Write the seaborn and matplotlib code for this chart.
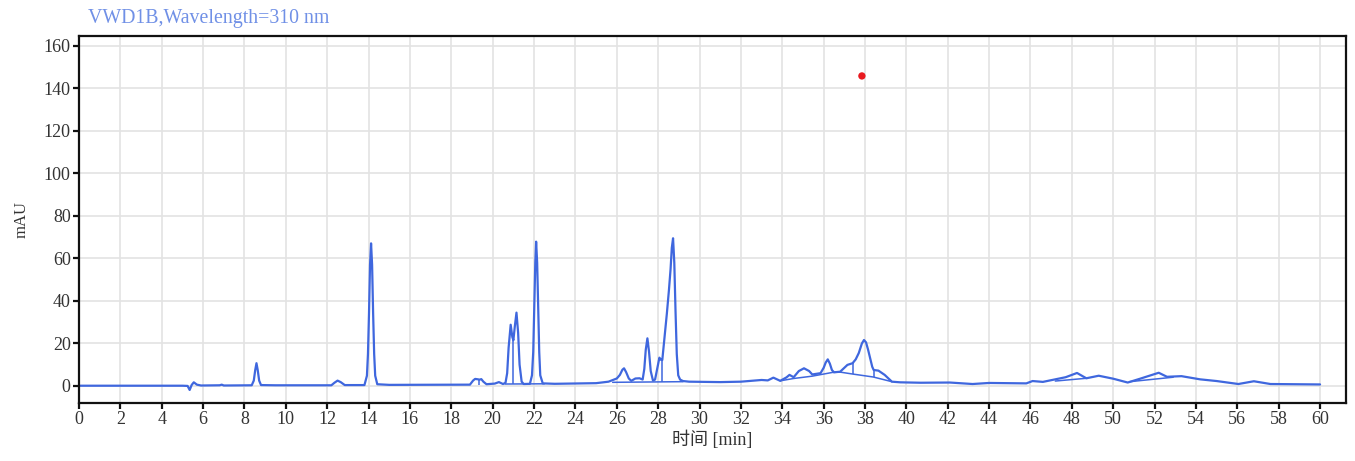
import numpy as np
import pandas as pd
import matplotlib
matplotlib.use("Agg")
import matplotlib.pyplot as plt
import seaborn as sns

# ---- data ----
time_min = [0.0, 5.0, 5.25, 5.35, 5.45, 5.55, 5.7, 5.9, 6.8, 6.9, 7.0,
            8.35, 8.45, 8.52, 8.58, 8.64, 8.71, 8.8, 9.5,
            12.2, 12.35, 12.5, 12.65, 12.85,
            13.8, 13.92, 13.97, 14.02, 14.07, 14.12, 14.17, 14.22, 14.27, 14.32, 14.42, 15.0,
            18.9, 19.05, 19.15, 19.3, 19.35, 19.45, 19.55, 19.7, 20.1, 20.3, 20.5,
            20.62, 20.7, 20.77, 20.87, 20.95, 21.0, 21.07, 21.15, 21.23, 21.3, 21.4, 21.5,
            21.8, 21.9, 21.96, 22.01, 22.06, 22.1, 22.15, 22.2, 22.25, 22.3, 22.42,
            23.0, 25.0, 25.6, 26.0, 26.15, 26.27, 26.35, 26.45, 26.58, 26.7, 26.9,
            27.1, 27.25, 27.33, 27.4, 27.48, 27.56, 27.64, 27.75, 27.85, 27.95,
            28.06, 28.13, 28.2, 28.3, 28.42, 28.52, 28.6, 28.66, 28.72, 28.78,
            28.84, 28.9, 28.97, 29.06, 29.2, 29.5, 31.0, 32.0,
            32.6, 33.0, 33.3, 33.57, 33.9, 34.2, 34.35, 34.55, 34.8, 35.05,
            35.3, 35.45, 35.85, 36.0, 36.1, 36.2, 36.3, 36.4, 36.5, 36.8,
            37.0, 37.15, 37.4, 37.55, 37.7, 37.85, 37.95, 38.05, 38.15, 38.25,
            38.35, 38.42, 38.65, 38.95, 39.3, 39.7, 40.7, 42.1, 43.2, 44.0,
            45.8, 46.1, 46.6, 47.2, 47.7, 48.25, 48.7, 49.3, 50.0, 50.7, 51.3,
            52.2, 52.6, 53.3, 54.2, 55.0, 56.05, 56.8, 57.6, 60.0]
signal_mau = [0.1, 0.1, 0.0, -1.9, 0.5, 1.7, 0.6, 0.2, 0.3, 0.6, 0.2,
              0.3, 2.5, 7.5, 10.7, 7.5, 2.5, 0.4, 0.3,
              0.3, 1.5, 2.5, 1.8, 0.4,
              0.4, 4.8, 15.0, 34.0, 57.0, 67.1, 57.0, 34.0, 15.0, 4.8, 0.8, 0.5,
              0.6, 2.5, 3.3, 3.1, 2.9, 3.2, 2.0, 0.8, 1.1, 1.8, 0.9,
              1.5, 6.0, 18.0, 28.8, 23.0, 21.5, 28.0, 34.5, 25.0, 10.0, 2.0, 0.9,
              1.0, 5.0, 16.0, 36.0, 58.0, 67.9, 58.0, 36.0, 16.0, 5.0, 1.2,
              1.0, 1.3, 2.0, 3.5, 5.2, 7.6, 8.3, 6.5, 3.5, 2.4, 3.5,
              3.6, 3.0, 8.0, 17.0, 22.4, 16.0, 7.0, 2.5, 3.0, 8.0,
              13.3, 12.3, 12.2, 22.0, 34.0, 45.0, 55.0, 65.0, 69.5, 58.0,
              35.0, 15.0, 5.0, 3.0, 2.3, 2.0, 1.8, 2.0,
              2.5, 2.8, 2.6, 3.9, 2.4, 4.0, 5.2, 4.1, 7.0, 8.3,
              7.0, 5.4, 6.0, 8.5, 11.0, 12.5, 10.5, 7.5, 6.4, 6.7,
              8.5, 9.9, 10.7, 12.5, 15.5, 20.0, 21.6, 20.5, 17.0, 13.0,
              9.0, 7.5, 7.2, 5.2, 2.0, 1.7, 1.5, 1.6, 0.9, 1.4,
              1.2, 2.3, 1.9, 3.1, 4.1, 6.1, 3.6, 4.8, 3.4, 1.6, 3.4,
              6.2, 4.3, 4.6, 3.1, 2.3, 0.9, 2.2, 0.9, 0.7]

# integration baselines
base_seg = [1, 1, 2, 2, 3, 3, 3, 3, 3, 3, 3, 3, 4, 4, 5, 5]
base_t = [20.6, 22.5, 25.8, 29.2, 33.9, 34.55, 35.45, 36.45, 36.8, 37.4, 38.4, 39.3,
          47.2, 48.7, 50.8, 52.9]
base_v = [0.9, 1.0, 1.7, 2.0, 2.4, 3.5, 4.6, 6.4, 6.5, 5.6, 4.2, 2.0,
          2.3, 3.6, 2.0, 4.1]

# peak drop lines
drop_t = [19.35, 21.0, 28.18, 37.43, 38.42]
drop_lo = [0.6, 0.9, 1.9, 5.6, 4.2]
drop_hi = [2.9, 21.5, 12.2, 10.8, 7.5]

# marker
marker_t = [37.85]
marker_v = [145.9]

x_ticks = list(range(0, 61, 2))
y_ticks = list(range(0, 161, 20))

title_text = "VWD1B,Wavelength=310 nm"
x_label = "时间 [min]"
y_label = "mAU"

# ---- drawing ----
sns.set_theme(style="whitegrid")
plt.rcParams['font.family'] = ['Liberation Serif', 'Noto Sans CJK SC', 'DejaVu Sans']
plt.rcParams['axes.unicode_minus'] = False

fig = plt.figure(figsize=(13.55, 4.61), dpi=100)
ax = fig.add_axes([79 / 1355, 1 - 402.5 / 461, (1345.5 - 79) / 1355, (402.5 - 36) / 461])
ax.set_facecolor("white")

line_col = "#3f67de"
trace = pd.DataFrame({"t": time_min, "v": signal_mau})
sns.lineplot(data=trace, x="t", y="v", sort=False, estimator=None,
             color=line_col, linewidth=1.6, ax=ax)
bases = pd.DataFrame({"seg": base_seg, "t": base_t, "v": base_v})
sns.lineplot(data=bases, x="t", y="v", units="seg", sort=False, estimator=None,
             color=line_col, linewidth=1.1, ax=ax)
ax.vlines(drop_t, drop_lo, drop_hi, color=line_col, linewidth=1.1)
sns.scatterplot(x=marker_t, y=marker_v, color="#e8191f", s=28, edgecolor="none",
                ax=ax, zorder=5)

ax.set_xlim(0, 61.23)
ax.set_ylim(-7.8, 164.7)
ax.set_xticks(x_ticks)
ax.set_yticks(y_ticks)
ax.grid(True, color="#e3e3e3", linewidth=1.2)
ax.set_axisbelow(True)
for s in ax.spines.values():
    s.set_visible(True)
    s.set_color("#111111")
    s.set_linewidth(1.6)
ax.tick_params(axis="both", which="major", direction="out", length=4, width=1.6,
               color="#111111", labelsize=13, labelcolor="#333333", pad=2,
               bottom=True, left=True)

ax.set_xlabel(x_label, fontsize=13, color="#333333", labelpad=2)
ax.set_ylabel(y_label, fontsize=12, color="#333333", labelpad=10)
fig.text(88 / 1355, 1 - 23 / 461, title_text, fontsize=14.3, color="#7090e6",
         family=['Liberation Serif', 'DejaVu Sans'], ha="left", va="baseline")

fig.savefig("out.png", dpi=100, facecolor="white")
